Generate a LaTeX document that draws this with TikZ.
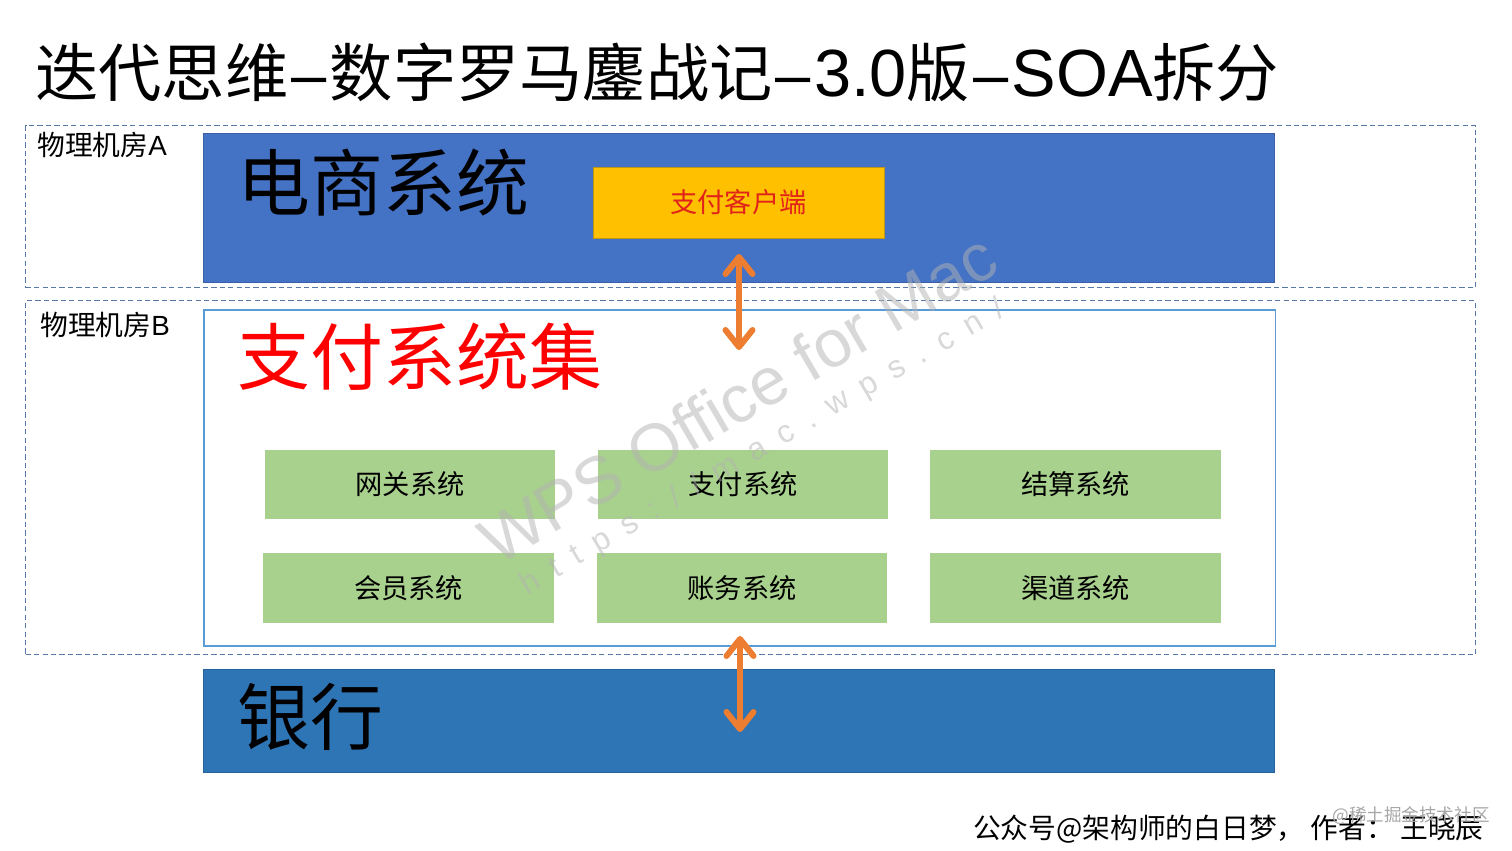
\documentclass[tikz,border=0pt]{standalone}
\usepackage{fontspec}
\setmainfont{Noto Sans CJK SC}
\newfontfamily\latinfont{Liberation Sans}
\newfontfamily\wpsurl[LetterSpace=50]{Liberation Sans}
\usetikzlibrary{arrows.meta}
\definecolor{roomline}{RGB}{85,120,165}
\definecolor{ecblue}{RGB}{68,114,196}
\definecolor{bankblue}{RGB}{46,117,182}
\definecolor{setline}{RGB}{91,155,213}
\definecolor{cliyellow}{RGB}{255,192,0}
\definecolor{cliline}{RGB}{190,150,20}
\definecolor{clired}{RGB}{225,35,25}
\definecolor{paygreen}{RGB}{169,209,142}
\definecolor{arroworange}{RGB}{237,125,49}
\newcommand\tdash{\kern0.05em{\latinfont–}\kern0.05em}

\begin{document}
\begin{tikzpicture}[x=0.02cm,y=-0.02cm,
	room/.style={draw=roomline,line width=0.8pt,dash pattern=on 3pt off 1.8pt},
	bigbox/.style={anchor=north west,inner sep=0pt,minimum width=21.42cm},
	bigtext/.style={anchor=west,inner sep=0pt,font=\fontsize{41.5}{48}\selectfont},
	gbox/.style={fill=paygreen,inner sep=0pt,minimum width=5.82cm,minimum height=1.4cm,font=\fontsize{15.5}{18}\selectfont},
	dbl/.style={draw=arroworange,line width=1.2mm,line cap=round,
		{Straight Barb[length=3.4mm,width=5.4mm,round]}-{Straight Barb[length=3.4mm,width=5.4mm,round]}}]
	\useasboundingbox (0,0) rectangle (1512,851);
	% title
	\node[anchor=west,inner sep=0pt,font=\fontsize{36}{44}\selectfont] (title) at (35,72)
		{迭代思维\tdash 数字罗马鏖战记\tdash{\latinfont\fontsize{38}{44}\selectfont 3.0}版\tdash{\latinfont\fontsize{38}{44}\selectfont SOA}拆分};
	% the two machine rooms
	\node[room,bigbox,minimum width=29cm,minimum height=3.24cm] (roomA) at (25,125) {};
	\node[room,bigbox,minimum width=29cm,minimum height=7.08cm] (roomB) at (25,300) {};
	\node[anchor=west,inner sep=0pt,font=\fontsize{15.8}{18}\selectfont] (labA) at (37,145) {物理机房{\latinfont A}};
	\node[anchor=west,inner sep=0pt,font=\fontsize{15.8}{18}\selectfont] (labB) at (40,325) {物理机房{\latinfont B}};
	% 电商
	\node[bigbox,fill=ecblue,draw=ecblue!85!black,thin,minimum height=2.98cm] (ec) at (203,133) {};
	\node[bigtext] (ectxt) at (237,183) {电商系统};
	\node[fill=cliyellow,draw=cliline,thin,inner sep=0pt,minimum width=5.82cm,minimum height=1.42cm,
		text=clired,font=\fontsize{15.5}{18}\selectfont] (cli) at (738.5,202.5) {支付客户端};
	% 支付
	\node[bigbox,fill=white,draw=setline,line width=0.9pt,minimum width=21.44cm,minimum height=6.72cm] (pset) at (203,309) {};
	\node[bigtext,text=red] (psettxt) at (237,357) {支付系统集};
	\foreach \n/\t/\cx/\cy in {gw/网关系统/410/484.5, pay/支付系统/743/484.5, clr/结算系统/1075.5/484.5,
		mem/会员系统/408.5/588, acc/账务系统/742/588, chn/渠道系统/1075.5/588} {
		\node[gbox] (\n) at (\cx,\cy) {\t};
	}
	% 银行
	\node[bigbox,fill=bankblue,draw=bankblue!85!black,thin,minimum height=2.06cm] (bank) at (203,669) {};
	\node[bigtext] (banktxt) at (237,717) {银行};
	% arrows
	\coordinate (a1) at (739,254);
	\coordinate (a2) at (739,350);
	\coordinate (b1) at (740,636);
	\coordinate (b2) at (740,732);
	\draw[dbl] (a1) -- (a2);
	\draw[dbl] (b1) -- (b2);
	% footer
	\node[anchor=east,inner sep=0pt,font=\fontsize{15.8}{18}\selectfont] (foot) at (1484,829) {公众号@架构师的白日梦，\ 作者：\ 王晓辰};
	\node[anchor=east,inner sep=0pt,text=black!35,font=\fontsize{10}{12}\selectfont] (jj) at (1490,816) {@稀土掘金技术社区};
	% watermark
	\node[rotate=30.3,text=black!30,text opacity=0.5,inner sep=0pt,font=\latinfont\fontsize{38}{44}\selectfont] (wps) at (738,398) {WPS Office for Mac};
	\node[rotate=30.3,text=black!30,text opacity=0.5,inner sep=0pt,font=\wpsurl\fontsize{18}{22}\selectfont] (url) at (763,448) {https://mac.wps.cn/};
\end{tikzpicture}
\end{document}
